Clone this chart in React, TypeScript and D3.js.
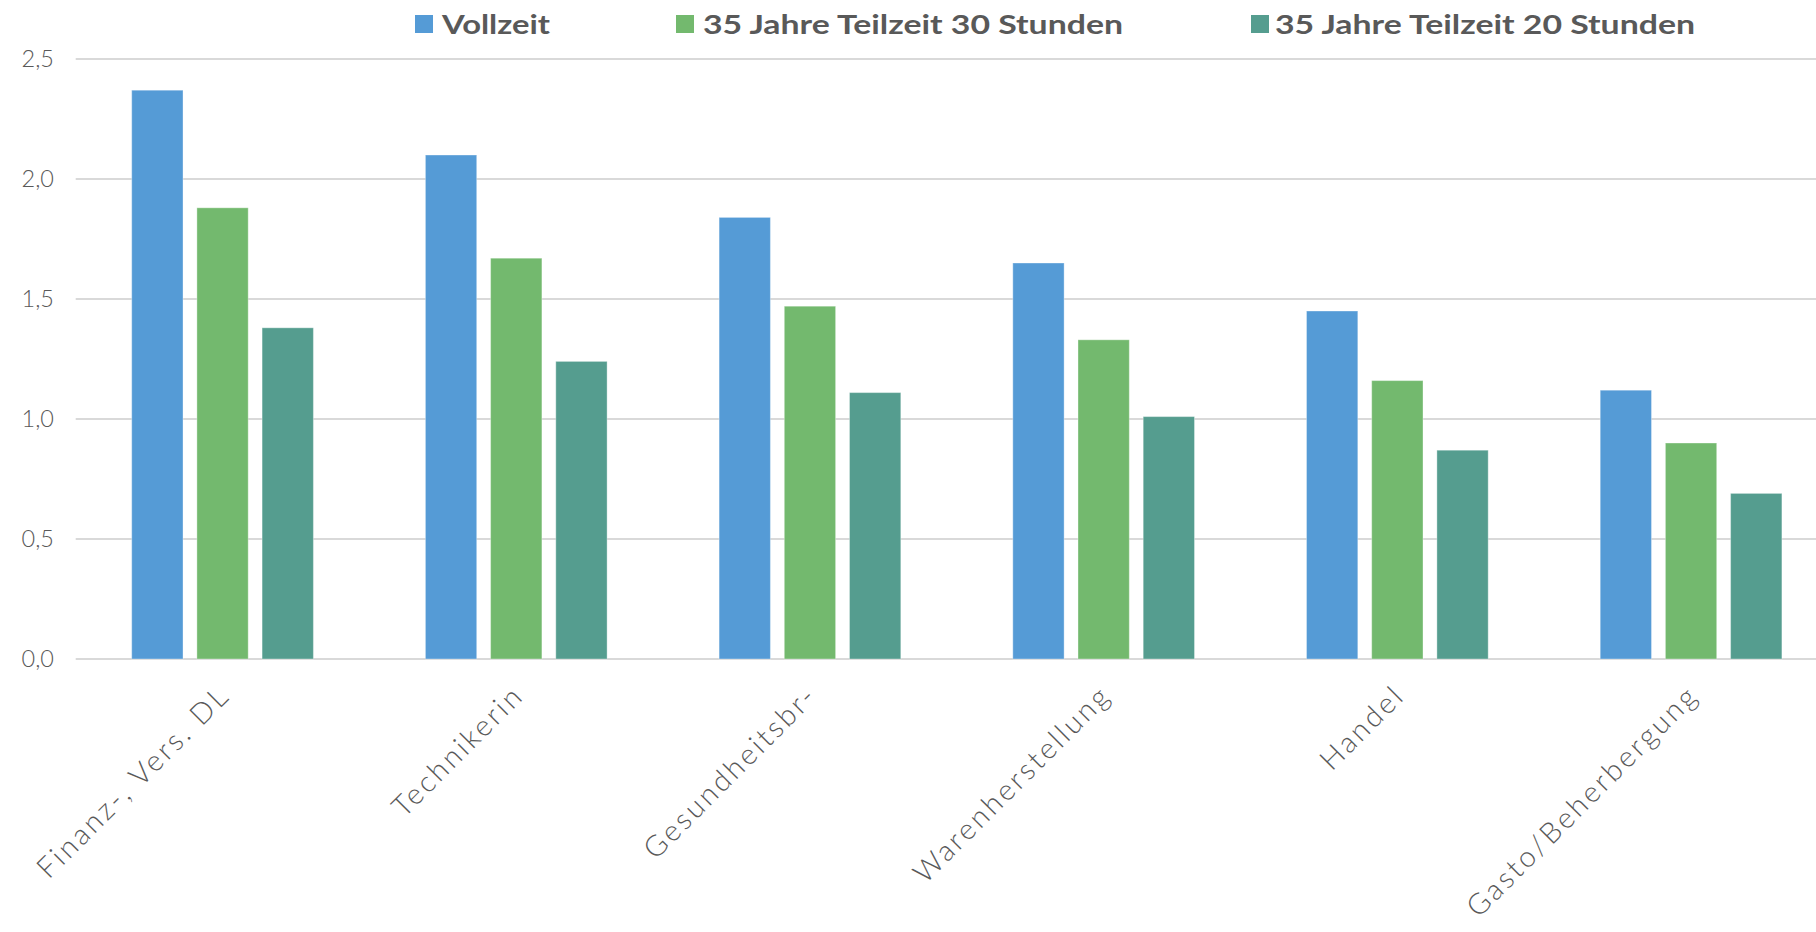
import React from "react";
import * as d3 from "d3";

// Chart data
const categories = [
  "Finanz-, Vers. DL",
  "Technikerin",
  "Gesundheitsbr-",
  "Warenherstellung",
  "Handel",
  "Gasto/Beherbergung",
];
const seriesNames = [
  "Vollzeit",
  "35 Jahre Teilzeit 30 Stunden",
  "35 Jahre Teilzeit 20 Stunden",
];
const vollzeit = [2.37, 2.1, 1.84, 1.65, 1.45, 1.12];
const teilzeit30 = [1.88, 1.67, 1.47, 1.33, 1.16, 0.9];
const teilzeit20 = [1.38, 1.24, 1.11, 1.01, 0.87, 0.69];
const yTicks = [0, 0.5, 1, 1.5, 2, 2.5];

const seriesValues = [vollzeit, teilzeit30, teilzeit20];
const colors = ["#559BD6", "#73B96E", "#559D8F"];

const W = 1816;
const H = 932;
const plotLeft = 75.7;
const groupStep = 293.7;
const plotTop = 59;
const plotBottom = 659;

const labelFont = "Lato, 'Open Sans', sans-serif";
const legendFont = "Lato, 'Liberation Sans', sans-serif";
const labelSpacing = 2.8;

// legend layout: swatch x, text x, text width
const legendItems = [
  { sx: 415, tx: 442, tw: 108 },
  { sx: 676, tx: 703, tw: 420 },
  { sx: 1251, tx: 1275, tw: 420 },
];

export default function App() {
  const x = d3
    .scaleBand<string>()
    .domain(categories)
    .range([plotLeft, plotLeft + groupStep * categories.length])
    .paddingInner(0)
    .paddingOuter(0);

  const xSub = d3
    .scaleBand<string>()
    .domain(seriesNames)
    .range([0, x.bandwidth()])
    .paddingInner(0.213)
    .paddingOuter(0.859);

  const y = d3.scaleLinear().domain([0, 2.5]).range([plotBottom, plotTop]);
  const fmt = (v: number) => d3.format(".1f")(v).replace(".", ",");

  return (
    <svg
      width={W}
      height={H}
      viewBox={`0 0 ${W} ${H}`}
      style={{ position: "absolute", left: 0, top: 0, background: "#ffffff" }}
    >
      {/* gridlines */}
      {yTicks.map((t) => (
        <line
          key={`g${t}`}
          x1={plotLeft}
          x2={W}
          y1={y(t)}
          y2={y(t)}
          stroke="#d9d9d9"
          strokeWidth={2}
        />
      ))}

      {/* y tick labels */}
      {yTicks.map((t) => (
        <text
          key={`t${t}`}
          x={54}
          y={y(t)}
          dy="0.35em"
          textAnchor="end"
          fontFamily={labelFont}
          fontWeight={300}
          fontSize={23.5}
          fill="#595959"
        >
          {fmt(t)}
        </text>
      ))}

      {/* bars */}
      {categories.map((c, i) => (
        <g key={c} transform={`translate(${x(c)},0)`}>
          {seriesNames.map((s, j) => {
            const v = seriesValues[j][i];
            return (
              <rect
                key={s}
                x={xSub(s)}
                y={y(v)}
                width={xSub.bandwidth()}
                height={y(0) - y(v)}
                fill={colors[j]}
                stroke="#ffffff"
                strokeOpacity={0.35}
                strokeWidth={1}
              />
            );
          })}
        </g>
      ))}

      {/* category labels */}
      {categories.map((c) => {
        const cx = (x(c) as number) + x.bandwidth() / 2;
        return (
          <text
            key={`l${c}`}
            transform={`translate(${cx},${692}) rotate(-45)`}
            dx={labelSpacing}
            dy="0.35em"
            textAnchor="end"
            fontFamily={labelFont}
            fontWeight={300}
            fontSize={29}
            letterSpacing={labelSpacing}
            fill="#595959"
          >
            {c}
          </text>
        );
      })}

      {/* legend */}
      {seriesNames.map((s, j) => (
        <g key={`lg${s}`}>
          <rect x={legendItems[j].sx} y={15} width={18} height={18} fill={colors[j]} />
          <text
            x={legendItems[j].tx}
            y={34}
            fontFamily={legendFont}
            fontWeight={700}
            fontSize={27}
            fill="#595959"
            textLength={legendItems[j].tw}
            lengthAdjust="spacingAndGlyphs"
          >
            {s}
          </text>
        </g>
      ))}
    </svg>
  );
}
